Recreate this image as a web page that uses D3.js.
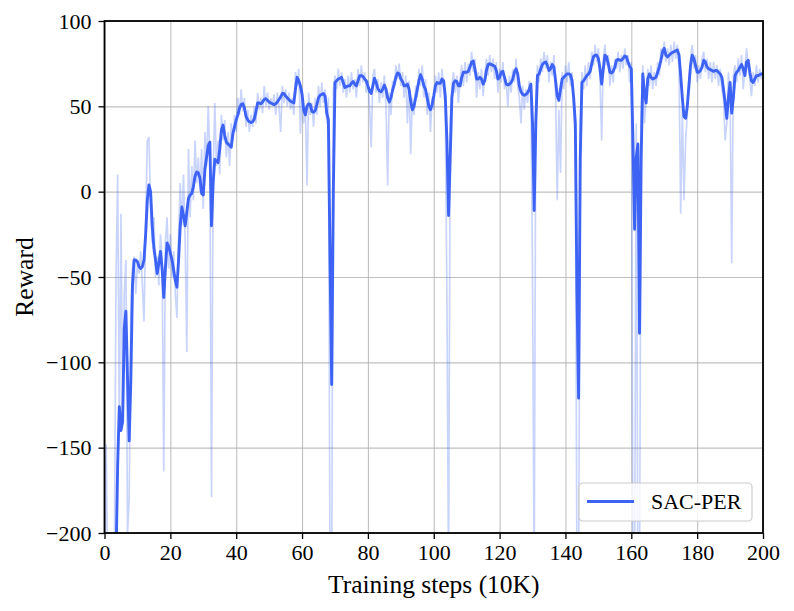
<!DOCTYPE html>
<html>
<head>
<meta charset="utf-8">
<script src="https://cdn.jsdelivr.net/npm/d3@7"></script>
<style>
body{margin:0;background:#fff;}
text{font-family:"Liberation Serif","Times New Roman",serif;fill:#000;}
</style>
</head>
<body>
<svg id="chart"></svg>
<script>
var width = 794;
var height = 611;
var margin = {top:21, right:31, bottom:78, left:104.5};

var seriesName = "SAC-PER";
var xLabel = "Training steps (10K)";
var yLabel = "Reward";
var stepSize = 0.5; // one value every 0.5 (x 10K) steps
var xTicks = [0,20,40,60,80,100,120,140,160,180,200];
var yTicks = [-200,-150,-100,-50,0,50,100];

// smoothed curve, x = 0, 0.5, 1, ... 200
var smoothed = [
  -240,-240,-240,-240,-240,-240,-240,-215,-160,-126,
  -140,-135,-80,-70,-110,-146,-110,-55,-40,-40,
  -41,-44,-45,-44,-40,-25,-5,4,0,-20,
  -33,-40,-48,-42,-35,-45,-62,-45,-30,-32,
  -36,-40,-46,-52,-56,-40,-20,-9,-14,-20,
  -12,-4,-2,-1,3,9,11.5,11,8,-1,
  -2,13,20,27,29,-20,5,19,18,17,
  25,36,39,33,29,28,27,26,34,38,
  42,45,49,51,51.5,49,44,42,41,40.5,
  41,42.5,47,52,52,51.5,52.5,54,54.5,53.5,
  52.5,52,51.5,51,51.5,52.5,54,55.5,57.5,57.5,
  56,55,54,53,52.5,52,60,67,65,62,
  57,48,45,50,51.5,51,47,46.5,47.5,51,
  55,56.5,57,57.5,56,46,42,-40,-113,0,
  64,65,66,66.5,67,64,61,61.5,62,62,
  63.5,64.5,63,62,65,68,68,67.5,66,65,
  62,59,57.5,62,66.5,64,60.5,59,58.5,60,
  62.5,60,55,52.5,55,59.5,63,67,69.5,69,
  66,64.5,62,62,63,60,53,48,50,55,
  60,65,68.5,66,62,60,55,50,48,51,
  56,62,64,63.5,63.5,66,65,56,30,-14,
  20,55,63.5,65,64.5,62,62,67,70,70,
  70,70.5,73,76,76.5,72,66,66,67,66,
  63,65,71,74.5,75,74.5,74,73.5,71,66,
  67,70,70.5,67,63,62.5,63,64,66,70,
  72,69,62,58.5,57,56.5,57,58,60,63,
  40,-11,40,68,69,72,74.5,75.5,76,74,
  71,72,74.5,73,65,56,53.5,60,66,67,
  68,69,69,68.5,65,55,40,-60,-121,20,
  64,65,66.5,68,69,70.5,75,79,80,80,
  78,72,63,72,80,79,75,70,69.5,70.5,
  73,77,77.5,77,77,78,79.5,79,76,73.5,
  72,30,-22,20,28,-83,20,69,58,52,
  66,69,67,66,66.5,67,70,73,77,82,
  84,80,79,80,81,81.5,82,82.5,83,80,
  68,55,44,43,50,62,74,80,78,74,
  70,70,71,73,77,76,73,72,71.5,71,
  70.5,71,71,70,69,67,60,52,43,55,
  64,46,55,68,70,71,73,74.5,72,68,
  76,77,70,65,64,66,68,68,68.5,69,
  69
];

// raw episode reward, same steps
var raw = [
  -230,-148,-230,-230,-230,-230,-210,-50,10,-140,
  -13,-125,-60,-40,-200,-180,-70,-45,-38,-60,
  -42,-48,-35,-55,-76,-20,30,32,-10,-30,
  -15,-50,-38,-55,-25,-40,-164,-30,-15,-45,
  -25,-50,-35,-60,-74,-25,5,-20,10,-30,
  -94,25,-15,15,-5,30,5,20,0,25,
  -10,35,15,50,20,-179,10,52,15,30,
  10,45,30,42,20,35,15,40,30,45,
  35,55,45,60,47,55,38,48,35,45,
  38,50,40,58,48,55,46,62,50,58,
  48,55,50,57,45,58,50,35,62,52,
  60,50,58,48,55,45,70,62,72,34,
  60,40,50,3.6,58,45,52,38,55,45,
  62,50,64,52,60,40,55,-230,-230,60,
  68,60,72,62,70,58,66,55,68,58,
  70,60,66,55,72,62,74,64,70,58,
  65,50,26,68,72,58,66,52,64,55,
  68,50,3.6,58,45,65,60,74,66,75,
  62,70,55,68,40,65,22,55,45,62,
  55,72,62,74,55,66,45,58,35,55,
  48,68,58,70,55,72,60,50,-61,-230,
  40,62,70,58,68,52,66,74,62,76,
  64,75,68,82,70,78,55,70,60,72,
  56,68,78,68,80,70,78,66,76,58,
  72,64,76,60,66,50,68,58,72,64,
  78,62,55,40,62,48,60,52,65,58,
  -47,-230,55,74,64,78,70,82,72,80,
  64,76,68,80,58,-5,48,11,70,60,
  74,64,76,62,70,48,30,-230,-230,40,
  70,60,74,62,76,66,82,74,86,76,
  84,66,30,78,86,74,80,62,74,64,
  78,72,82,70,80,72,84,74,80,64,
  76,-230,-230,40,-230,-230,45,74,40,55,
  72,62,74,60,70,62,76,68,84,78,
  88,76,84,74,86,76,88,78,86,72,
  -13,50,-5,30,45,65,78,86,72,80,
  64,74,66,78,82,70,78,66,76,64,
  76,66,74,62,72,60,55,30,40,70,
  58,-42,68,74,64,78,68,80,60,72,
  84,74,66,56,70,62,74,64,72,66,
  70
];

var lineColor = "#3d63f5";
var innerW = width - margin.left - margin.right;
var innerH = height - margin.top - margin.bottom;

var svg = d3.select("#chart")
  .attr("width", width)
  .attr("height", height);

var xScale = d3.scaleLinear().domain([0,200]).range([margin.left, width - margin.right]);
var yScale = d3.scaleLinear().domain([-200,100]).range([height - margin.bottom, margin.top]);

svg.append("defs").append("clipPath").attr("id","plotclip")
  .append("rect")
  .attr("x", margin.left).attr("y", margin.top)
  .attr("width", innerW).attr("height", innerH);

// grid
var gx = svg.append("g")
  .attr("transform", "translate(" + [0, height - margin.bottom] + ")")
  .call(d3.axisBottom(xScale).tickValues(xTicks).tickSize(-innerH).tickFormat(""));
var gy = svg.append("g")
  .attr("transform", "translate(" + [margin.left, 0] + ")")
  .call(d3.axisLeft(yScale).tickValues(yTicks).tickSize(-innerW).tickFormat(""));
[gx, gy].forEach(function(g){
  g.select(".domain").remove();
  g.selectAll("line").attr("stroke", "#b0b0b0").attr("stroke-width", 1.1).attr("opacity", 0.8);
});

var line = d3.line()
  .x(function(d, i){ return xScale(i * stepSize); })
  .y(function(d){ return yScale(d); });

var plot = svg.append("g").attr("clip-path", "url(#plotclip)");

plot.append("path")
  .attr("d", line(raw))
  .attr("fill", "none")
  .attr("stroke", lineColor)
  .attr("stroke-opacity", 0.28)
  .attr("stroke-width", 1.7);

plot.append("path")
  .attr("d", line(smoothed))
  .attr("fill", "none")
  .attr("stroke", lineColor)
  .attr("stroke-width", 2.9)
  .attr("stroke-linejoin", "round");

// axes
var xAxis = svg.append("g")
  .attr("transform", "translate(" + [0, height - margin.bottom] + ")")
  .call(d3.axisBottom(xScale).tickValues(xTicks).tickSize(6).tickPadding(5));
var yAxis = svg.append("g")
  .attr("transform", "translate(" + [margin.left, 0] + ")")
  .call(d3.axisLeft(yScale).tickValues(yTicks).tickSize(6).tickPadding(7));
[xAxis, yAxis].forEach(function(g){
  g.select(".domain").remove();
  g.selectAll("line").attr("stroke", "#000").attr("stroke-width", 1.3);
  g.selectAll("text").style("font-size", "22px").attr("fill", "#000");
});

svg.append("rect")
  .attr("x", margin.left).attr("y", margin.top)
  .attr("width", innerW).attr("height", innerH)
  .attr("fill", "none").attr("stroke", "#000").attr("stroke-width", 1.8);

// labels
svg.append("text")
  .attr("x", margin.left + innerW / 2)
  .attr("y", 593)
  .attr("text-anchor", "middle")
  .style("font-size", "25.5px")
  .text(xLabel);

svg.append("text")
  .attr("transform", "translate(33," + (margin.top + innerH / 2) + ") rotate(-90)")
  .attr("text-anchor", "middle")
  .style("font-size", "25.5px")
  .text(yLabel);

// legend
var lg = svg.append("g")
  .attr("transform", "translate(" + [width - margin.right - 184, height - margin.bottom - 50] + ")");
lg.append("rect")
  .attr("width", 173).attr("height", 38).attr("rx", 4)
  .attr("fill", "#fff").attr("fill-opacity", 0.8)
  .attr("stroke", "#cccccc").attr("stroke-width", 1.2);
lg.append("line")
  .attr("x1", 8).attr("x2", 55).attr("y1", 18.5).attr("y2", 18.5)
  .attr("stroke", lineColor).attr("stroke-width", 2.9);
lg.append("text")
  .attr("x", 72).attr("y", 26)
  .style("font-size", "22px")
  .text(seriesName);
</script>
</body>
</html>
